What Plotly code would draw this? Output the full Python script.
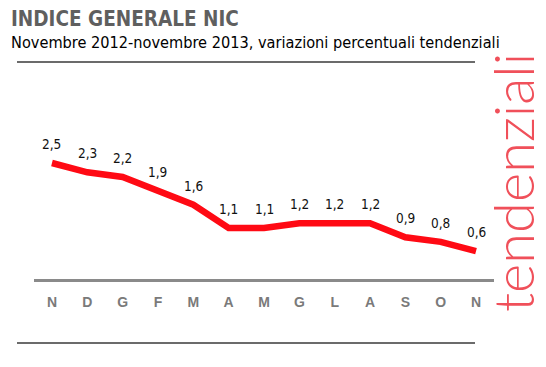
import plotly.graph_objects as go

months = ["N", "D", "G", "F", "M", "A", "M", "G", "L", "A", "S", "O", "N"]
values = [2.5, 2.3, 2.2, 1.9, 1.6, 1.1, 1.1, 1.2, 1.2, 1.2, 0.9, 0.8, 0.6]
labels = ["2,5", "2,3", "2,2", "1,9", "1,6", "1,1", "1,1", "1,2", "1,2", "1,2", "0,9", "0,8", "0,6"]

OFF = 8  # page body margin
W, H = 546 - OFF, 367 - OFF


def px(x):
    return (x - OFF) / W


def py(y):
    return 1 - (y - OFF) / H


xs = list(range(len(months)))

fig = go.Figure()
fig.add_trace(go.Scatter(
    x=xs, y=values, mode="lines",
    line=dict(color="#ff0a14", width=6.5),
    hoverinfo="skip", showlegend=False,
))

for x, v, t in zip(xs, values, labels):
    fig.add_annotation(x=x, y=v, text=t, showarrow=False, yshift=19,
                       font=dict(family="DejaVu Sans Condensed, Liberation Sans", size=13.5, color="#111111"))

# title and subtitle
fig.add_annotation(xref="paper", yref="paper", x=px(9), y=py(19), text="<b>INDICE GENERALE NIC</b>",
                   showarrow=False, xanchor="left", yanchor="middle",
                   font=dict(family="DejaVu Sans Condensed, Liberation Sans", size=20.5, color="#5f5f5f"))
fig.add_annotation(xref="paper", yref="paper", x=px(9), y=py(42),
                   text="Novembre 2012-novembre 2013, variazioni percentuali tendenziali",
                   showarrow=False, xanchor="left", yanchor="middle",
                   font=dict(family="DejaVu Sans Condensed, Liberation Sans", size=16.2, color="#000000"))

# vertical decorative text
fig.add_annotation(xref="paper", yref="paper", x=px(512), y=py(183), text="tendenziali",
                   showarrow=False, textangle=-90, xanchor="center", yanchor="middle",
                   font=dict(family="Lato, Roboto, Liberation Sans", size=56, color="#f0505a", weight=300))

# horizontal rules
for yy in (62, 343):
    fig.add_shape(type="line", xref="paper", yref="paper", x0=px(17), x1=px(475),
                  y0=py(yy), y1=py(yy), line=dict(color="#3a3a3a", width=1.5))

fig.update_layout(
    width=W, height=H,
    margin=dict(l=0, r=0, t=0, b=0),
    paper_bgcolor="white", plot_bgcolor="white",
    xaxis=dict(
        domain=[px(34.3), px(493.7)],
        range=[-0.5, 12.5],
        tickmode="array", tickvals=xs, ticktext=["<b>%s</b>" % m for m in months],
        tickfont=dict(family="Liberation Sans, Arial", size=14, color="#7a7a7a"),
        showline=True, linecolor="#8a8a8a", linewidth=3,
        showgrid=False, zeroline=False, ticks="", ticklabelstandoff=8,
    ),
    yaxis=dict(
        domain=[py(279), py(116.6)],
        range=[0, 3.5], visible=False, showgrid=False, zeroline=False,
    ),
)

fig.write_html("out.html")
